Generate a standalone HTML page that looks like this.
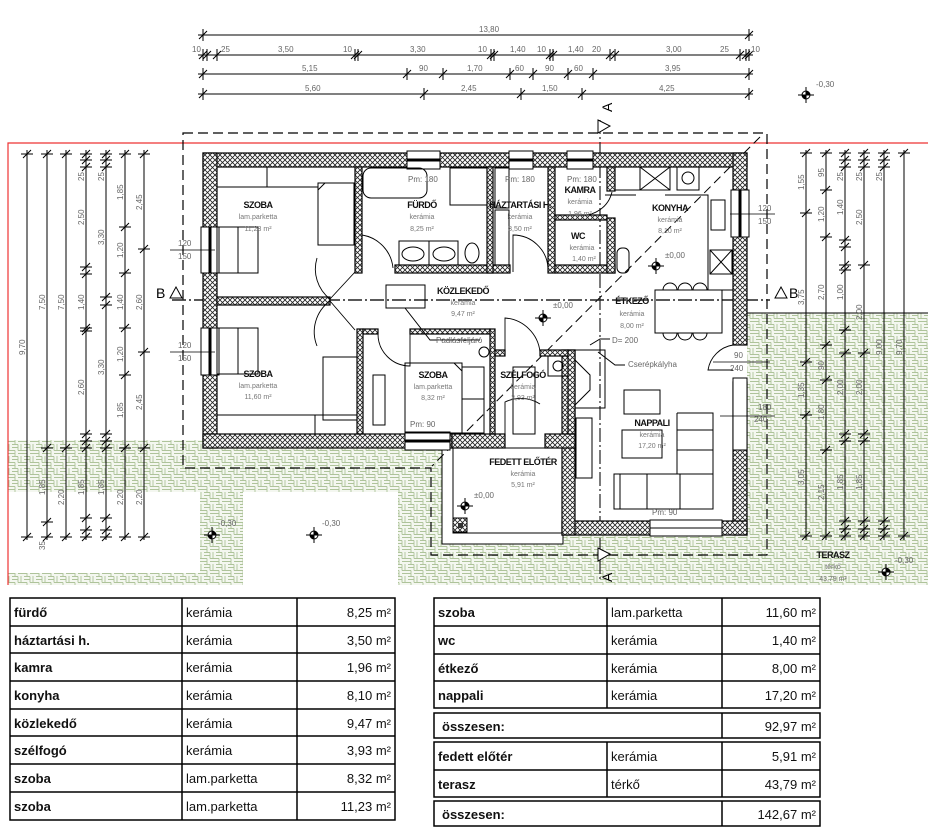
<!DOCTYPE html>
<html><head><meta charset="utf-8"><style>
html,body{margin:0;padding:0;background:#fff;}
svg{display:block;}
.d{font-family:"Liberation Sans",sans-serif;font-size:8px;fill:#666;}
.r{font-family:"Liberation Sans",sans-serif;font-size:9px;font-weight:bold;fill:#111;text-anchor:middle;letter-spacing:-0.5px}
.s{font-family:"Liberation Sans",sans-serif;font-size:7px;fill:#777;text-anchor:middle;}
.tb{font-family:"Liberation Sans",sans-serif;font-size:13px;font-weight:bold;fill:#111;}
.tn{font-family:"Liberation Sans",sans-serif;font-size:13px;fill:#111;}
.ta{font-family:"Liberation Sans",sans-serif;font-size:13px;fill:#111;text-anchor:end;}
</style></head><body>
<svg width="928" height="828" viewBox="0 0 928 828" xmlns="http://www.w3.org/2000/svg">
<defs>
<pattern id="h" width="5" height="5" patternUnits="userSpaceOnUse"><rect width="5" height="5" fill="#fff"/><path d="M0,0L5,5M5,0L0,5" stroke="#222" stroke-width="0.8"/></pattern>
<pattern id="g" width="12" height="12" patternUnits="userSpaceOnUse"><rect width="12" height="12" fill="#f4f7f0"/><path d="M0,0.5H6M6,0.5V6.5M0,3.5H6M3,6.5V12M6,6.5H12M9,0V6.5M6,9.5H12M0,6.5H3M0,9.5H3" stroke="#aec39a" stroke-width="0.9" fill="none"/></pattern>
<g id="t"><path d="M-4,4L4,-4M0,-6V6" stroke="#000" stroke-width="1"/></g>
<g id="v"><path d="M-6,0H6M-4,4L4,-4" stroke="#000" stroke-width="1"/></g>
<g id="lv"><circle r="4" fill="#fff" stroke="#000"/><path d="M0,0V-4A4,4 0 0 1 4,0Z M0,0V4A4,4 0 0 1 -4,0Z" fill="#000"/><path d="M-8,0H8M0,-8V8" stroke="#000"/></g>
</defs>

<!-- green paving -->
<g fill="url(#g)">
<rect x="8" y="440" width="447" height="52"/>
<rect x="200" y="492" width="43" height="93"/>
<rect x="8" y="573" width="235" height="12"/>
<rect x="398" y="492" width="530" height="93"/>
<rect x="747" y="313" width="181" height="179"/>
</g>
<path d="M747,313H928" stroke="#000" stroke-width="1"/>

<!-- red line -->
<path d="M8,585V143H928" stroke="#e33" stroke-width="1.2" fill="none"/>

<!-- house white -->
<path d="M203,153H747V535H562V448H203Z" fill="#fff"/>
<rect x="442" y="448" width="121" height="96" fill="#fff" stroke="#000"/>
<rect x="453" y="448" width="110" height="85" fill="none" stroke="#000"/>
<rect x="453" y="518" width="14" height="14" fill="url(#h)" stroke="#000"/>
<rect x="458" y="523" width="5" height="5" fill="#333"/>

<!-- roof dashed outline -->
<path d="M183,133H767V555H431V468H183Z" fill="none" stroke="#000" stroke-width="1.2" stroke-dasharray="10,5"/>
<path d="M760,137L432,466" stroke="#000" stroke-width="1" stroke-dasharray="9,5"/>
<!-- section lines -->
<path d="M172,300H770" stroke="#222" stroke-width="1.5" stroke-dasharray="14,3,2,3"/>
<path d="M600,120V580" stroke="#222" stroke-width="1.2" stroke-dasharray="14,3,2,3"/>
<path d="M170,298L176,287L182,298Z M775,298L781,287L787,298Z" fill="#fff" stroke="#000"/>
<text x="156" y="298" font-family="Liberation Sans" font-size="14" fill="#000">B</text>
<text x="789" y="298" font-family="Liberation Sans" font-size="14" fill="#000">B</text>
<path d="M598,120L610,126L598,133Z M598,548L610,554L598,561Z" fill="#fff" stroke="#000"/>
<text transform="translate(612,112) rotate(-90)" font-family="Liberation Sans" font-size="14" fill="#000">A</text>
<text transform="translate(612,582) rotate(-90)" font-family="Liberation Sans" font-size="14" fill="#000">A</text>

<!-- walls -->
<g fill="url(#h)" stroke="#000" stroke-width="1.2">
<rect x="203" y="153" width="544" height="14"/>
<rect x="203" y="153" width="14" height="295"/>
<rect x="203" y="434" width="249" height="14"/>
<rect x="733" y="153" width="14" height="192"/>
<rect x="733" y="382" width="14" height="153"/>
<rect x="562" y="521" width="185" height="14"/>
<rect x="562" y="350" width="13" height="185"/>
<rect x="452" y="434" width="53" height="14"/>
<rect x="545" y="434" width="30" height="14"/>
<rect x="355" y="167" width="7" height="106"/>
<rect x="395" y="265" width="115" height="8"/>
<rect x="487" y="167" width="6" height="106"/>
<rect x="548" y="167" width="7" height="106"/>
<rect x="555" y="265" width="60" height="8"/>
<rect x="607" y="167" width="8" height="24"/>
<rect x="607" y="218" width="8" height="55"/>
<rect x="555" y="215" width="52" height="5"/>
<rect x="217" y="297" width="113" height="8"/>
<rect x="357" y="329" width="6" height="105"/>
<rect x="363" y="329" width="15" height="5"/>
<rect x="410" y="329" width="80" height="5"/>
<rect x="490" y="329" width="5" height="105"/>
<rect x="495" y="350" width="10" height="6"/>
<rect x="540" y="350" width="28" height="6"/>
<rect x="568" y="350" width="7" height="84"/>
</g>
<!-- windows -->
<g fill="#fff" stroke="#000" stroke-width="1">
<rect x="407" y="151" width="33" height="18"/><path d="M407,160H440" stroke-width="3"/>
<rect x="509" y="151" width="24" height="18"/><path d="M509,160H533" stroke-width="3"/>
<rect x="567" y="151" width="26" height="18"/><path d="M567,160H593" stroke-width="3"/>
<rect x="201" y="227" width="18" height="46"/><path d="M210,227V273" stroke-width="3"/>
<rect x="201" y="328" width="18" height="47"/><path d="M210,328V375" stroke-width="3"/>
<rect x="731" y="190" width="18" height="47"/><path d="M740,190V237" stroke-width="3"/>
<rect x="405" y="432" width="45" height="18"/><path d="M405,441H450" stroke-width="3"/>
<rect x="650" y="520" width="72" height="16"/><path d="M650,528H722"/>
<rect x="733" y="378" width="14" height="72"/>
</g>

<!-- furniture -->
<g fill="none" stroke="#000" stroke-width="1">
<path d="M217,187H318M267,167V187"/>
<rect x="318" y="183" width="36" height="62"/><path d="M318,190L325,183"/>
<rect x="217" y="227" width="21" height="46"/><rect x="238" y="227" width="20" height="46"/>
<rect x="217" y="328" width="21" height="46"/><rect x="238" y="328" width="20" height="46"/>
<path d="M217,415H357M315,415V434"/>
<rect x="323" y="357" width="34" height="63"/>
<rect x="363" y="168" width="64" height="30" rx="8"/>
<rect x="450" y="168" width="37" height="37"/>
<rect x="399" y="241" width="30" height="24"/><rect x="429" y="241" width="29" height="24"/>
<ellipse cx="413" cy="254" rx="11" ry="7"/><ellipse cx="444" cy="254" rx="11" ry="7"/>
<ellipse cx="472" cy="253" rx="7" ry="10"/>
<rect x="495" y="168" width="14" height="40"/><rect x="495" y="210" width="14" height="55"/>
<rect x="615" y="167" width="25" height="23"/><rect x="640" y="167" width="30" height="23"/><path d="M640,167L670,190M670,167L640,190"/>
<rect x="677" y="167" width="22" height="23"/><circle cx="688" cy="178" r="6"/>
<path d="M605,195H636M665,195H708V290H733M708,290V230"/>
<rect x="711" y="200" width="14" height="30"/>
<rect x="710" y="250" width="22" height="24"/><path d="M710,250L732,274M732,250L710,274"/>
<rect x="617" y="248" width="12" height="25" rx="5"/>
<rect x="655" y="290" width="67" height="43"/>
<path d="M663,290a7,7 0 0 1 14,0M678,290a7,7 0 0 1 14,0M693,290a7,7 0 0 1 14,0M663,333a7,7 0 0 0 14,0M678,333a7,7 0 0 0 14,0M693,333a7,7 0 0 0 14,0"/>
<rect x="575" y="350" width="30" height="58"/><path d="M575,360L590,375V390L575,405"/>
<rect x="624" y="390" width="36" height="24"/>
<rect x="622" y="430" width="40" height="28"/>
<path d="M614,474H713V509H614Z M620,474V509M647,474V509M680,474V509M677,413H713V509M677,413V474M677,430H713M677,450H713"/>
<rect x="576" y="418" width="16" height="60"/>
<rect x="373" y="375" width="12" height="50"/>
<rect x="405" y="363" width="57" height="70"/><path d="M454,363L462,371"/>
<rect x="462" y="367" width="22" height="32"/><rect x="462" y="399" width="22" height="34"/>
<rect x="513" y="367" width="22" height="67"/>
<rect x="548" y="356" width="20" height="20"/><circle cx="558" cy="366" r="5"/>
<circle cx="484" cy="352" r="5"/>
<rect x="386" y="285" width="39" height="23"/>
<path d="M405,308L430,340H480"/>
</g>
<!-- door arcs -->
<g fill="none" stroke="#000" stroke-width="0.9">
<path d="M362,272V235A37,37 0 0 1 393,268"/>
<path d="M513,272V235A35,35 0 0 1 548,268"/>
<path d="M330,299L355,272M330,299A38,38 0 0 1 317,258"/>
<path d="M330,301L355,330M330,301A38,38 0 0 0 317,346"/>
<path d="M378,334A32,32 0 0 0 410,366V334"/>
<path d="M505,356V318A38,38 0 0 1 540,352"/>
<path d="M505,434V402A36,36 0 0 1 540,404"/>
<path d="M733,345A30,30 0 0 0 708,370H733"/>
<path d="M612,192A30,30 0 0 1 580,215"/>
</g>
<text x="652" y="515" class="d" style="font-size:8px">Pm: 90</text>
<text x="410" y="427" class="d">Pm: 90</text>
<text x="408" y="182" class="d">Pm: 180</text><text x="505" y="182" class="d">Pm: 180</text><text x="567" y="182" class="d">Pm: 180</text>

<!-- leaders -->
<path d="M590,345L600,339H610M598,352L615,365H625" stroke="#000" fill="none"/>
<text x="436" y="343" class="d" fill="#444">Padlásfeljáró</text>
<text x="612" y="343" class="d">D= 200</text>
<text x="628" y="367" class="d">Cserépkályha</text>

<!-- room labels -->
<text x="258" y="208" class="r">SZOBA</text><text x="258" y="219" class="s">lam.parketta</text><text x="258" y="231" class="s">11,23 m²</text>
<text x="422" y="208" class="r">FÜRDŐ</text><text x="422" y="219" class="s">kerámia</text><text x="422" y="231" class="s">8,25 m²</text>
<text x="520" y="208" class="r">HÁZTARTÁSI H.</text><text x="520" y="219" class="s">kerámia</text><text x="520" y="231" class="s">3,50 m²</text>
<text x="580" y="193" class="r">KAMRA</text><text x="580" y="204" class="s">kerámia</text><text x="580" y="216" class="s">1,96 m²</text>
<text x="670" y="211" class="r">KONYHA</text><text x="670" y="222" class="s">kerámia</text><text x="670" y="233" class="s">8,10 m²</text>
<text x="578" y="239" class="r">WC</text><text x="582" y="250" class="s">kerámia</text><text x="584" y="261" class="s">1,40 m²</text>
<text x="463" y="294" class="r">KÖZLEKEDŐ</text><text x="463" y="305" class="s">kerámia</text><text x="463" y="316" class="s">9,47 m²</text>
<text x="258" y="377" class="r">SZOBA</text><text x="258" y="388" class="s">lam.parketta</text><text x="258" y="399" class="s">11,60 m²</text>
<text x="433" y="378" class="r">SZOBA</text><text x="433" y="389" class="s">lam.parketta</text><text x="433" y="400" class="s">8,32 m²</text>
<text x="523" y="378" class="r">SZÉLFOGÓ</text><text x="523" y="389" class="s">kerámia</text><text x="523" y="400" class="s">3,93 m²</text>
<text x="632" y="304" class="r">ÉTKEZŐ</text><text x="632" y="316" class="s">kerámia</text><text x="632" y="328" class="s">8,00 m²</text>
<text x="652" y="426" class="r">NAPPALI</text><text x="652" y="437" class="s">kerámia</text><text x="652" y="448" class="s">17,20 m²</text>
<text x="523" y="465" class="r">FEDETT ELŐTÉR</text><text x="523" y="476" class="s">kerámia</text><text x="523" y="487" class="s">5,91 m²</text>
<text x="833" y="558" class="r">TERASZ</text><text x="833" y="569" class="s">térkő</text><text x="833" y="581" class="s">43,79 m²</text>

<!-- levels -->
<use href="#lv" x="806" y="95"/><text x="816" y="87" class="d">-0,30</text>
<use href="#lv" x="212" y="535"/><text x="218" y="526" class="d">-0,30</text>
<use href="#lv" x="314" y="535"/><text x="322" y="526" class="d">-0,30</text>
<use href="#lv" x="465" y="506"/><text x="474" y="498" class="d">±0,00</text>
<use href="#lv" x="543" y="318"/><text x="553" y="308" class="d">±0,00</text>
<use href="#lv" x="656" y="266"/><text x="665" y="258" class="d">±0,00</text>
<use href="#lv" x="886" y="572"/><text x="895" y="563" class="d">-0,30</text>

<!-- top dimensions -->
<g stroke="#000" stroke-width="1"><path d="M198,35H753M198,55H753M198,74H753M198,94H753"/></g>
<use href="#t" x="203" y="35"/><use href="#t" x="749" y="35"/>
<use href="#t" x="203" y="55"/><use href="#t" x="207" y="55"/><use href="#t" x="217" y="55"/><use href="#t" x="355" y="55"/><use href="#t" x="358" y="55"/><use href="#t" x="491" y="55"/><use href="#t" x="494" y="55"/><use href="#t" x="550" y="55"/><use href="#t" x="553" y="55"/><use href="#t" x="610" y="55"/><use href="#t" x="615" y="55"/><use href="#t" x="740" y="55"/><use href="#t" x="746" y="55"/><use href="#t" x="749" y="55"/>
<use href="#t" x="203" y="74"/><use href="#t" x="407" y="74"/><use href="#t" x="443" y="74"/><use href="#t" x="510" y="74"/><use href="#t" x="533" y="74"/><use href="#t" x="568" y="74"/><use href="#t" x="593" y="74"/><use href="#t" x="749" y="74"/>
<use href="#t" x="203" y="94"/><use href="#t" x="424" y="94"/><use href="#t" x="521" y="94"/><use href="#t" x="582" y="94"/><use href="#t" x="749" y="94"/>
<text x="479" y="32" class="d">13,80</text>
<text x="192" y="52" class="d">10</text><text x="221" y="52" class="d">25</text><text x="278" y="52" class="d">3,50</text><text x="343" y="52" class="d">10</text><text x="410" y="52" class="d">3,30</text><text x="478" y="52" class="d">10</text><text x="510" y="52" class="d">1,40</text><text x="537" y="52" class="d">10</text><text x="568" y="52" class="d">1,40</text><text x="592" y="52" class="d">20</text><text x="666" y="52" class="d">3,00</text><text x="720" y="52" class="d">25</text><text x="751" y="52" class="d">10</text>
<text x="302" y="71" class="d">5,15</text><text x="419" y="71" class="d">90</text><text x="467" y="71" class="d">1,70</text><text x="515" y="71" class="d">60</text><text x="545" y="71" class="d">90</text><text x="574" y="71" class="d">60</text><text x="665" y="71" class="d">3,95</text>
<text x="305" y="91" class="d">5,60</text><text x="461" y="91" class="d">2,45</text><text x="542" y="91" class="d">1,50</text><text x="659" y="91" class="d">4,25</text>

<!-- left dimensions -->
<g stroke="#000" stroke-width="1"><path d="M27,150V540M47,150V540M66,150V540M86,150V540M106,150V540M125,150V540M144,150V540"/></g>
<use href="#v" x="27" y="154"/><use href="#v" x="27" y="537"/>
<use href="#v" x="47" y="154"/><use href="#v" x="47" y="448"/><use href="#v" x="47" y="522"/><use href="#v" x="47" y="537"/>
<use href="#v" x="66" y="154"/><use href="#v" x="66" y="448"/><use href="#v" x="66" y="537"/>
<use href="#v" x="86" y="154"/><use href="#v" x="86" y="160"/><use href="#v" x="86" y="167"/><use href="#v" x="86" y="267"/><use href="#v" x="86" y="274"/><use href="#v" x="86" y="328"/><use href="#v" x="86" y="331"/><use href="#v" x="86" y="434"/><use href="#v" x="86" y="441"/><use href="#v" x="86" y="448"/><use href="#v" x="86" y="518"/><use href="#v" x="86" y="530"/><use href="#v" x="86" y="537"/>
<use href="#v" x="106" y="154"/><use href="#v" x="106" y="160"/><use href="#v" x="106" y="167"/><use href="#v" x="106" y="297"/><use href="#v" x="106" y="305"/><use href="#v" x="106" y="434"/><use href="#v" x="106" y="441"/><use href="#v" x="106" y="448"/><use href="#v" x="106" y="518"/><use href="#v" x="106" y="530"/><use href="#v" x="106" y="537"/>
<use href="#v" x="125" y="154"/><use href="#v" x="125" y="227"/><use href="#v" x="125" y="273"/><use href="#v" x="125" y="328"/><use href="#v" x="125" y="375"/><use href="#v" x="125" y="448"/><use href="#v" x="125" y="537"/>
<use href="#v" x="144" y="154"/><use href="#v" x="144" y="249"/><use href="#v" x="144" y="352"/><use href="#v" x="144" y="448"/><use href="#v" x="144" y="537"/>
<g class="d">
<text transform="translate(25,355) rotate(-90)">9,70</text>
<text transform="translate(45,310) rotate(-90)">7,50</text><text transform="translate(45,495) rotate(-90)">1,85</text><text transform="translate(45,550) rotate(-90)">35</text>
<text transform="translate(64,310) rotate(-90)">7,50</text><text transform="translate(64,505) rotate(-90)">2,20</text>
<text transform="translate(84,225) rotate(-90)">2,50</text><text transform="translate(84,310) rotate(-90)">1,40</text><text transform="translate(84,395) rotate(-90)">2,60</text><text transform="translate(84,495) rotate(-90)">1,85</text><text transform="translate(84,181) rotate(-90)">25</text>
<text transform="translate(104,245) rotate(-90)">3,30</text><text transform="translate(104,375) rotate(-90)">3,30</text><text transform="translate(104,495) rotate(-90)">1,85</text><text transform="translate(104,181) rotate(-90)">25</text>
<text transform="translate(123,200) rotate(-90)">1,85</text><text transform="translate(123,258) rotate(-90)">1,20</text><text transform="translate(123,310) rotate(-90)">1,40</text><text transform="translate(123,362) rotate(-90)">1,20</text><text transform="translate(123,418) rotate(-90)">1,85</text><text transform="translate(123,505) rotate(-90)">2,20</text>
<text transform="translate(142,210) rotate(-90)">2,45</text><text transform="translate(142,310) rotate(-90)">2,60</text><text transform="translate(142,410) rotate(-90)">2,45</text><text transform="translate(142,505) rotate(-90)">2,20</text>
<text x="178" y="246">120</text><text x="178" y="259">150</text><text x="178" y="348">120</text><text x="178" y="361">150</text>
<text x="758" y="211">120</text><text x="758" y="224">150</text><text x="734" y="358">90</text><text x="730" y="371">240</text><text x="758" y="410">180</text><text x="754" y="422">240</text>
</g>
<path d="M170,250H215M170,352H215M730,214H775M713,362H770M720,416H775" stroke="#000" stroke-width="0.8"/>

<!-- right dimensions -->
<g stroke="#000" stroke-width="1"><path d="M806,150V540M826,150V540M845,150V540M864,150V540M884,150V540M904,150V540"/></g>
<use href="#v" x="806" y="153"/><use href="#v" x="806" y="213"/><use href="#v" x="806" y="362"/><use href="#v" x="806" y="415"/><use href="#v" x="806" y="536"/>
<use href="#v" x="826" y="153"/><use href="#v" x="826" y="190"/><use href="#v" x="826" y="237"/><use href="#v" x="826" y="345"/><use href="#v" x="826" y="380"/><use href="#v" x="826" y="450"/><use href="#v" x="826" y="536"/>
<use href="#v" x="845" y="153"/><use href="#v" x="845" y="160"/><use href="#v" x="845" y="167"/><use href="#v" x="845" y="240"/><use href="#v" x="845" y="247"/><use href="#v" x="845" y="265"/><use href="#v" x="845" y="270"/><use href="#v" x="845" y="330"/><use href="#v" x="845" y="353"/><use href="#v" x="845" y="434"/><use href="#v" x="845" y="441"/><use href="#v" x="845" y="521"/><use href="#v" x="845" y="529"/><use href="#v" x="845" y="536"/>
<use href="#v" x="864" y="153"/><use href="#v" x="864" y="160"/><use href="#v" x="864" y="167"/><use href="#v" x="864" y="265"/><use href="#v" x="864" y="353"/><use href="#v" x="864" y="434"/><use href="#v" x="864" y="441"/><use href="#v" x="864" y="521"/><use href="#v" x="864" y="529"/><use href="#v" x="864" y="536"/>
<use href="#v" x="884" y="153"/><use href="#v" x="884" y="160"/><use href="#v" x="884" y="167"/><use href="#v" x="884" y="521"/><use href="#v" x="884" y="529"/><use href="#v" x="884" y="536"/>
<use href="#v" x="904" y="153"/><use href="#v" x="904" y="536"/>
<g class="d">
<text transform="translate(804,190) rotate(-90)">1,55</text><text transform="translate(804,305) rotate(-90)">3,75</text><text transform="translate(804,398) rotate(-90)">1,35</text><text transform="translate(804,485) rotate(-90)">3,05</text>
<text transform="translate(824,177) rotate(-90)">95</text><text transform="translate(824,222) rotate(-90)">1,20</text><text transform="translate(824,300) rotate(-90)">2,70</text><text transform="translate(824,370) rotate(-90)">90</text><text transform="translate(824,420) rotate(-90)">1,80</text><text transform="translate(824,500) rotate(-90)">2,15</text>
<text transform="translate(843,181) rotate(-90)">25</text><text transform="translate(843,215) rotate(-90)">1,40</text><text transform="translate(843,300) rotate(-90)">1,00</text><text transform="translate(843,395) rotate(-90)">2,00</text><text transform="translate(843,490) rotate(-90)">1,85</text>
<text transform="translate(862,181) rotate(-90)">25</text><text transform="translate(862,225) rotate(-90)">2,50</text><text transform="translate(862,320) rotate(-90)">2,00</text><text transform="translate(862,395) rotate(-90)">2,00</text><text transform="translate(862,490) rotate(-90)">1,85</text>
<text transform="translate(882,181) rotate(-90)">25</text><text transform="translate(882,355) rotate(-90)">9,00</text>
<text transform="translate(902,355) rotate(-90)">9,70</text>
</g>

<!-- tables -->
<g fill="none" stroke="#000" stroke-width="1.5">
<rect x="10" y="598" width="385" height="222"/>
<path d="M182,598V820M297,598V820M10,626H395M10,653H395M10,681H395M10,709H395M10,736H395M10,764H395M10,792H395"/>
<rect x="434" y="598" width="386" height="110"/>
<path d="M607,598V708M722,598V708M434,626H820M434,654H820M434,681H820"/>
<rect x="434" y="713" width="386" height="25"/><path d="M722,713V738"/>
<rect x="434" y="742" width="386" height="55"/><path d="M607,742V797M722,742V797M434,770H820"/>
<rect x="434" y="801" width="386" height="25"/><path d="M722,801V826"/>
</g>
<g>
<text x="14" y="617" class="tb">fürdő</text><text x="186" y="617" class="tn">kerámia</text><text x="391" y="617" class="ta">8,25 m²</text>
<text x="14" y="645" class="tb">háztartási h.</text><text x="186" y="645" class="tn">kerámia</text><text x="391" y="645" class="ta">3,50 m²</text>
<text x="14" y="672" class="tb">kamra</text><text x="186" y="672" class="tn">kerámia</text><text x="391" y="672" class="ta">1,96 m²</text>
<text x="14" y="700" class="tb">konyha</text><text x="186" y="700" class="tn">kerámia</text><text x="391" y="700" class="ta">8,10 m²</text>
<text x="14" y="728" class="tb">közlekedő</text><text x="186" y="728" class="tn">kerámia</text><text x="391" y="728" class="ta">9,47 m²</text>
<text x="14" y="755" class="tb">szélfogó</text><text x="186" y="755" class="tn">kerámia</text><text x="391" y="755" class="ta">3,93 m²</text>
<text x="14" y="783" class="tb">szoba</text><text x="186" y="783" class="tn">lam.parketta</text><text x="391" y="783" class="ta">8,32 m²</text>
<text x="14" y="811" class="tb">szoba</text><text x="186" y="811" class="tn">lam.parketta</text><text x="391" y="811" class="ta">11,23 m²</text>
<text x="438" y="617" class="tb">szoba</text><text x="611" y="617" class="tn">lam.parketta</text><text x="816" y="617" class="ta">11,60 m²</text>
<text x="438" y="645" class="tb">wc</text><text x="611" y="645" class="tn">kerámia</text><text x="816" y="645" class="ta">1,40 m²</text>
<text x="438" y="673" class="tb">étkező</text><text x="611" y="673" class="tn">kerámia</text><text x="816" y="673" class="ta">8,00 m²</text>
<text x="438" y="700" class="tb">nappali</text><text x="611" y="700" class="tn">kerámia</text><text x="816" y="700" class="ta">17,20 m²</text>
<text x="442" y="731" class="tb">összesen:</text><text x="816" y="731" class="ta">92,97 m²</text>
<text x="438" y="761" class="tb">fedett előtér</text><text x="611" y="761" class="tn">kerámia</text><text x="816" y="761" class="ta">5,91 m²</text>
<text x="438" y="789" class="tb">terasz</text><text x="611" y="789" class="tn">térkő</text><text x="816" y="789" class="ta">43,79 m²</text>
<text x="442" y="819" class="tb">összesen:</text><text x="816" y="819" class="ta">142,67 m²</text>
</g>
</svg>
</body></html>
